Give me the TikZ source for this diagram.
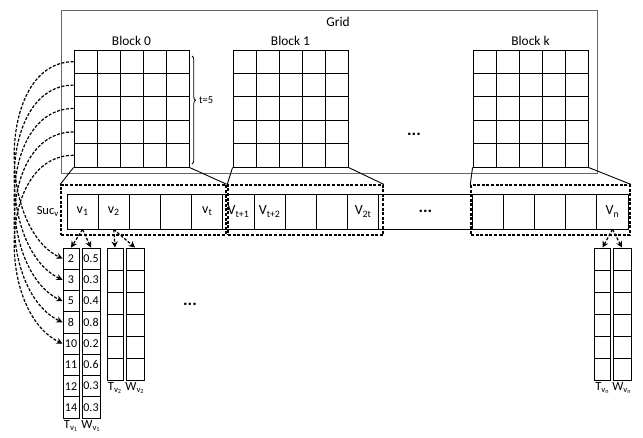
\documentclass[tikz,border=0pt]{standalone}
\usepackage{fontspec}
\setmainfont{Carlito}
\usetikzlibrary{arrows.meta,positioning,decorations.pathreplacing}

\begin{document}
\begin{tikzpicture}[
  x=1pt, y=-1pt,
  bcell/.style={rectangle, draw, line width=0.9pt, minimum width=23pt, minimum height=23.4pt, inner sep=0pt},
  scell/.style={rectangle, draw, line width=0.9pt, minimum width=31.17pt, minimum height=35pt, inner sep=0pt, font=\fontsize{14}{16}\selectfont},
  tcell/.style={rectangle, draw, line width=0.9pt, minimum width=16pt, minimum height=21.25pt, inner sep=0pt, font=\fontsize{12}{14}\selectfont},
  wcell/.style={tcell, minimum width=18pt},
  dbox/.style={rectangle, draw, line width=1.4pt, dash pattern=on 3pt off 1.6pt, inner sep=0pt},
  lbl/.style={font=\fontsize{13.4}{15}\selectfont},
  sublbl/.style={font=\fontsize{12.5}{14}\selectfont, inner sep=1pt},
  dots/.style={font=\bfseries\fontsize{17}{18}\selectfont, inner sep=0pt},
  darr/.style={-{Stealth[length=2.2mm, width=2.2mm]}, line width=1.2pt, dash pattern=on 3pt off 1.6pt}
]
  \useasboundingbox (0,0) rectangle (643,437);

  % Grid
  \node[draw=black!60, line width=0.9pt, minimum width=536pt, minimum height=163pt] (grid) at (329,91.5) {};
  \node[lbl] (gridlbl) at (338,22) {Grid};

  % Blocks
  \foreach \b/\x in {0/74, 1/233, k/473} {
    \foreach \r in {1,...,5}
      \foreach \c in {1,...,5}
        \node[bcell] (b\b-\r-\c) at ({\x+23*\c-11.5},{50+23.4*\r-11.7}) {};
    \node[lbl, above=0pt of b\b-1-3] (blk\b) {Block \b};
  }
  \node[dots] (griddots) at (414,134) {...};

  % brace over the rows of block 0
  \draw[decorate, decoration={brace, amplitude=3.5pt, aspect=0.41}, line width=0.8pt]
    (192,56) -- (192,164);
  \node[font=\fontsize{10.5}{12}\selectfont, anchor=west, inner sep=1pt] (tlbl) at (198,100) {t=5};

  % Suc array
  \foreach \i/\t in {0/{v\textsubscript{1}}, 1/{v\textsubscript{2}}, 2/{}, 3/{}, 4/{v\textsubscript{t}},
                     5/{V\textsubscript{t+1}}, 6/{V\textsubscript{t+2}}, 7/{}, 8/{}, 9/{V\textsubscript{2t}},
                     13/{}, 14/{}, 15/{}, 16/{}, 17/{V\textsubscript{n}}}
    \node[scell] (s\i) at ({67+31.17*\i+15.585},211.5) {\t};
  \node[scell, minimum width=93.51pt] (sdots) at (425.35,211.5) {};
  \node[dots] at (sdots.center) {...};
  \node[font=\fontsize{12.5}{14}\selectfont, anchor=east, inner sep=1pt] (suclbl) at (60,211.5) {Suc\textsubscript{v}};

  % dashed boxes
  \node[dbox, minimum width=165pt, minimum height=50pt] (box0) at (143.5,210) {};
  \node[dbox, minimum width=155pt, minimum height=50pt] (box1) at (305.5,210) {};
  \node[dbox, minimum width=159pt, minimum height=50pt] (boxk) at (550.5,210) {};

  \draw[line width=0.9pt] (b0-5-1.south west) -- (box0.north west);
  \draw[line width=0.9pt] (b0-5-5.south east) -- (box0.north east);
  \draw[line width=0.9pt] (b1-5-1.south west) -- (box1.north west);
  \draw[line width=0.9pt] (b1-5-5.south east) -- (box1.north east);
  \draw[line width=0.9pt] (bk-5-1.south west) -- (boxk.north west);
  \draw[line width=0.9pt] (bk-5-5.south east) -- (boxk.north east);

  % T and W of v1
  \foreach \j/\tv/\wv in {1/2/0.5, 2/3/0.3, 3/5/0.4, 4/8/0.8, 5/10/0.2, 6/11/0.6, 7/12/0.3, 8/14/0.3} {
    \node[tcell] (t1-\j) at (71,{248+21.25*\j-10.625}) {\tv};
    \node[wcell] (w1-\j) at (91,{248+21.25*\j-10.625}) {\wv};
  }
  \node[sublbl, below=1pt of t1-8] (t1lbl) {T\textsubscript{v\textsubscript{1}}};
  \node[sublbl, below=1pt of w1-8] (w1lbl) {W\textsubscript{v\textsubscript{1}}};

  % T and W of v2 and vn
  \foreach \j in {1,...,6} {
    \node[tcell, minimum height=22pt] (t2-\j) at (115,{248+22*\j-11}) {};
    \node[wcell, minimum height=22pt] (w2-\j) at (135,{248+22*\j-11}) {};
    \node[tcell, minimum height=22pt] (tn-\j) at (602.5,{248+22*\j-11}) {};
    \node[wcell, minimum height=22pt] (wn-\j) at (622,{248+22*\j-11}) {};
  }
  \node[sublbl, below=1pt of t2-6] (t2lbl) {T\textsubscript{v\textsubscript{2}}};
  \node[sublbl, below=1pt of w2-6] (w2lbl) {W\textsubscript{v\textsubscript{2}}};
  \node[sublbl, below=1pt of tn-6] (tnlbl) {T\textsubscript{v\textsubscript{n}}};
  \node[sublbl, below=1pt of wn-6] (wnlbl) {W\textsubscript{v\textsubscript{n}}};
  \node[dots] (middots) at (190,304) {...};

  % Arrows
  \draw[darr] (s0.south) -- (t1-1.north);
  \draw[darr] (s0.south) -- (w1-1.north);
  \draw[darr] (s1.south) -- (t2-1.north);
  \draw[darr] (s1.south) -- (w2-1.north);
  \draw[darr] (s17.south) -- (tn-1.north);
  \draw[darr] (s17.south) -- (wn-1.north);
  \foreach \i in {1,...,5}
    \draw[darr] (b0-\i-1.west) .. controls +(-76,0) and +(-66,-32) .. (t1-\i.west);
\end{tikzpicture}
\end{document}
